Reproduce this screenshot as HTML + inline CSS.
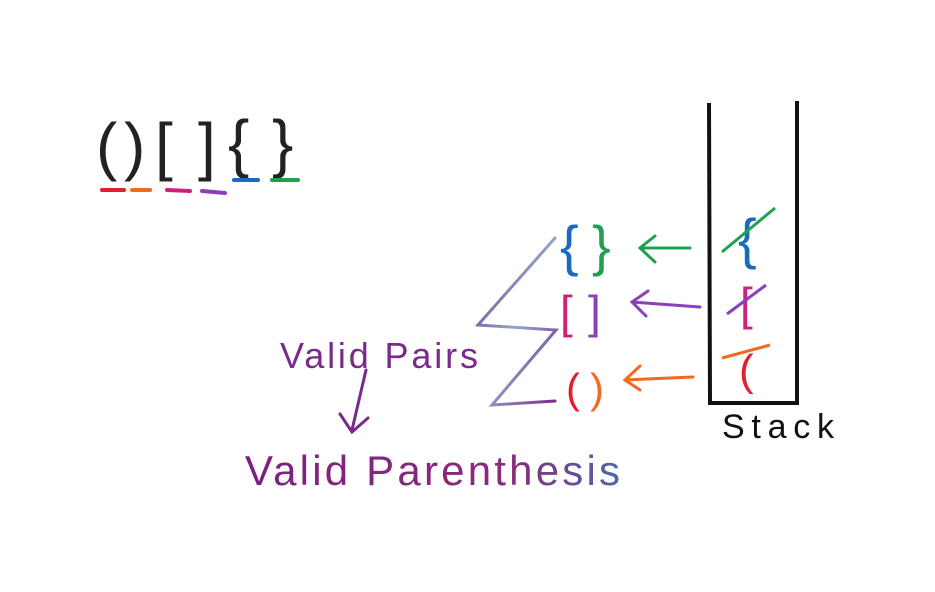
<!DOCTYPE html>
<html><head><meta charset="utf-8"><style>
html,body{margin:0;padding:0;background:#fff;}
svg{display:block}
text{font-family:"Liberation Sans",sans-serif;}
</style></head><body>
<svg width="935" height="592" viewBox="0 0 935 592">
<defs>
<linearGradient id="g1" x1="0" y1="0" x2="1" y2="1">
<stop offset="0" stop-color="#7a2a8a"/><stop offset="0.5" stop-color="#8fa8c8"/><stop offset="1" stop-color="#7a2a8a"/>
</linearGradient>
<linearGradient id="g2" x1="0" y1="0" x2="1" y2="0">
<stop offset="0" stop-color="#7a2080"/><stop offset="0.7" stop-color="#8a2a7a"/><stop offset="1" stop-color="#4a6aa8"/>
</linearGradient>
</defs>
<g font-size="64" fill="#222" font-weight="300">
<text x="96" y="168">(</text>
<text x="124" y="168">)</text>
<text x="155" y="168">[</text>
<text x="198" y="168">]</text>
<text x="228" y="165">{</text>
<text x="272" y="165">}</text>
</g>
<g stroke-width="4" stroke-linecap="round">
<line x1="102" y1="190" x2="124" y2="190" stroke="#e0202a"/>
<line x1="132" y1="190" x2="150" y2="190" stroke="#f06a20"/>
<line x1="167" y1="190" x2="190" y2="191" stroke="#d0207a"/>
<line x1="202" y1="191" x2="225" y2="193" stroke="#8a40b8"/>
<line x1="234" y1="180" x2="258" y2="180" stroke="#1a6ac0"/>
<line x1="272" y1="180" x2="298" y2="180" stroke="#20a050"/>
</g>
<g stroke="#111" stroke-width="4" fill="none">
<path d="M709 103 L710 403 L797 403 L797 101"/>
</g>
<text x="722" y="438" font-size="34" fill="#111" textLength="112" lengthAdjust="spacing">Stack</text>
<g>
<text x="738" y="258" font-size="56" fill="#1a6ac0">{</text>
<line x1="722" y1="252" x2="775" y2="208" stroke="#20a050" stroke-width="3"/>
<text x="740" y="320" font-size="46" fill="#d0207a">[</text>
<line x1="727" y1="314" x2="766" y2="285" stroke="#8a40b8" stroke-width="3"/>
<text x="739" y="385" font-size="44" fill="#e0202a">(</text>
<line x1="722" y1="358" x2="770" y2="345" stroke="#f06a20" stroke-width="3"/>
</g>
<g fill="none" stroke-width="3" stroke-linecap="round">
<path d="M690 248 L640 248 M655 236 L640 248 L655 262" stroke="#20a050"/>
<path d="M700 307 L632 302 M648 291 L632 302 L646 316" stroke="#8a40b8"/>
<path d="M693 377 L625 380 M640 366 L625 380 L640 390" stroke="#f06a20"/>
</g>
<g>
<text x="560" y="265" font-size="56" fill="#1a6ac0">{</text>
<text x="592" y="265" font-size="56" fill="#20a050">}</text>
<text x="560" y="328" font-size="46" fill="#d0207a">[</text>
<text x="588" y="328" font-size="46" fill="#8a40b8">]</text>
<text x="566" y="403" font-size="42" fill="#e0202a">(</text>
<text x="590" y="403" font-size="42" fill="#f06a20">)</text>
</g>
<path d="M555 238 L478 325 L556 330 L492 405 L555 401" fill="none" stroke="url(#g1)" stroke-width="3" stroke-linecap="round"/>
<text x="280" y="368" font-size="36" fill="#7a2a8a" textLength="198" lengthAdjust="spacing">Valid Pairs</text>
<path d="M366 370 L352 430 M340 414 L352 432 L368 418" fill="none" stroke="#7a2a8a" stroke-width="3" stroke-linecap="round"/>
<text x="245" y="485" font-size="42" fill="url(#g2)" textLength="375" lengthAdjust="spacing">Valid Parenthesis</text>
</svg>
</body></html>
